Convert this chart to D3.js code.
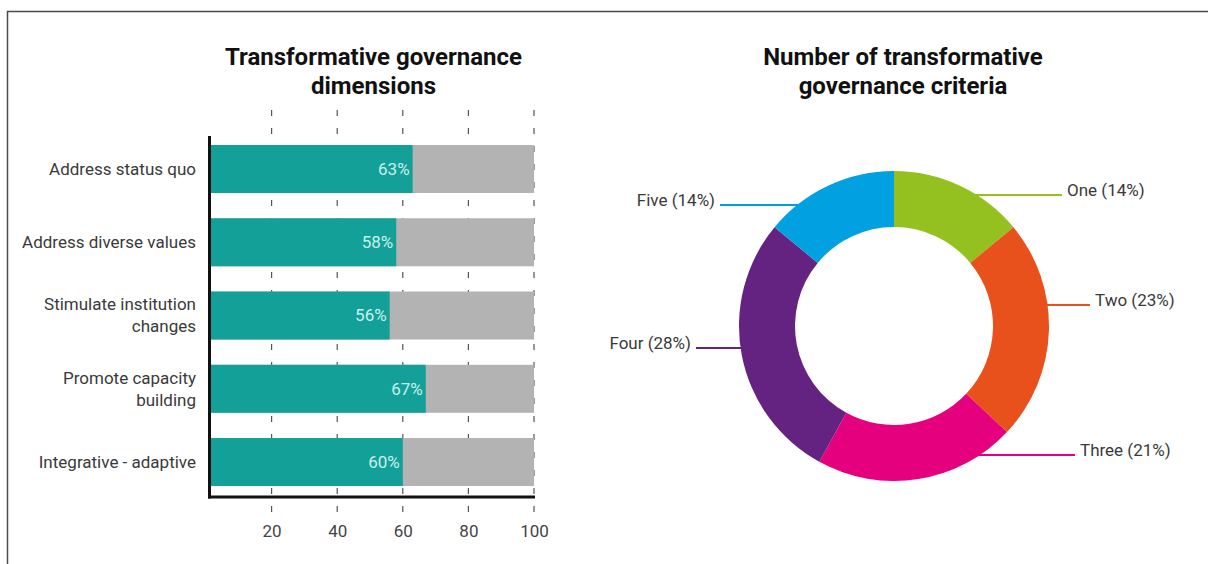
<!DOCTYPE html>
<html>
<head>
<meta charset="utf-8">
<script src="https://cdn.jsdelivr.net/npm/d3@7/dist/d3.min.js"></script>
<style>
  html, body { margin: 0; padding: 0; background: #fff; }
  svg { display: block; font-family: Roboto, "Noto Sans", sans-serif; }
</style>
</head>
<body>
<svg id="chart" width="1208" height="564"></svg>
<script>
// Share of studies addressing each transformative governance dimension (%)
const dimensions = [
  ["Address status quo"],
  ["Address diverse values"],
  ["Stimulate institution", "changes"],
  ["Promote capacity", "building"],
  ["Integrative - adaptive"]
];
const dimensionShares = [63, 58, 56, 67, 60];
const xTicks = [20, 40, 60, 80, 100];

// Number of criteria met
const criteriaNames = ["One", "Two", "Three", "Four", "Five"];
const criteriaShares = [14, 23, 21, 28, 14];
const criteriaColors = ["#94c11f", "#e8511b", "#e5007e", "#652381", "#00a0e1"];

const svg = d3.select("#chart");

// outer frame
svg.append("rect")
  .attr("x", 7.5).attr("y", 11.5)
  .attr("width", 1300).attr("height", 700)
  .attr("fill", "none").attr("stroke", "#4a4a4a").attr("stroke-width", 1.5);

// ---------- bar chart ----------
const x = d3.scaleLinear().domain([0, 100]).range([206, 534]);
const y = d3.scaleBand()
  .domain(d3.range(dimensions.length))
  .range([132.4, 498.65])
  .paddingInner(0.345)
  .paddingOuter(0.1725);

const axisX = 209.5, axisY = 497;

const left = svg.append("g");

left.append("text")
  .attr("x", 373.5).attr("y", 65)
  .attr("text-anchor", "middle")
  .attr("font-size", 24).attr("font-weight", 700).attr("fill", "#111")
  .selectAll("tspan")
  .data(["Transformative governance", "dimensions"])
  .join("tspan")
  .attr("x", 373.5)
  .attr("dy", (d, i) => i ? 29 : 0)
  .text(d => d);

// dashed grid lines
left.append("g")
  .selectAll("line")
  .data(xTicks)
  .join("line")
  .attr("x1", d => x(d)).attr("x2", d => x(d))
  .attr("y1", 110).attr("y2", 518)
  .attr("stroke", "#555").attr("stroke-width", 1.2)
  .attr("stroke-dasharray", "6,12");

// remainder (grey) and share (teal) bars
left.append("g")
  .selectAll("rect")
  .data(dimensionShares)
  .join("rect")
  .attr("x", axisX)
  .attr("y", (d, i) => y(i))
  .attr("width", x(100) - axisX)
  .attr("height", y.bandwidth())
  .attr("fill", "#b3b3b3");

left.append("g")
  .selectAll("rect")
  .data(dimensionShares)
  .join("rect")
  .attr("x", axisX)
  .attr("y", (d, i) => y(i))
  .attr("width", d => x(d) - axisX)
  .attr("height", y.bandwidth())
  .attr("fill", "#12a099");

left.append("g")
  .selectAll("text")
  .data(dimensionShares)
  .join("text")
  .attr("x", d => x(d) - 3)
  .attr("y", (d, i) => y(i) + y.bandwidth() / 2)
  .attr("dy", "0.35em")
  .attr("text-anchor", "end")
  .attr("font-size", 17).attr("fill", "#c9f1ec")
  .text(d => d + "%");

// category labels
left.append("g")
  .selectAll("text")
  .data(dimensions)
  .join("text")
  .attr("text-anchor", "end")
  .attr("font-size", 17).attr("fill", "#3a3a3a")
  .each(function (lines, i) {
    const cy = y(i) + y.bandwidth() / 2;
    const lh = 22;
    d3.select(this).selectAll("tspan")
      .data(lines)
      .join("tspan")
      .attr("x", 196)
      .attr("y", (d, j) => cy + (j - (lines.length - 1) / 2) * lh)
      .attr("dy", "0.35em")
      .text(d => d);
  });

// axes
left.append("line")
  .attr("x1", axisX).attr("x2", axisX)
  .attr("y1", 136).attr("y2", axisY + 1.5)
  .attr("stroke", "#111").attr("stroke-width", 3);
left.append("line")
  .attr("x1", axisX - 1.5).attr("x2", x(100) + 1)
  .attr("y1", axisY).attr("y2", axisY)
  .attr("stroke", "#111").attr("stroke-width", 3);

const xAxis = d3.axisBottom(x).tickValues(xTicks).tickSize(0).tickPadding(0);
const xg = left.append("g").attr("transform", "translate(0,525)").call(xAxis);
xg.select(".domain").remove();
xg.selectAll("text")
  .attr("font-size", 17).attr("fill", "#444")
  .attr("font-family", "Roboto, sans-serif");

// ---------- donut ----------
const cx = 894, cy = 326, rOuter = 155, rInner = 99;
const right = svg.append("g");

right.append("text")
  .attr("x", 903).attr("y", 65)
  .attr("text-anchor", "middle")
  .attr("font-size", 24).attr("font-weight", 700).attr("fill", "#111")
  .selectAll("tspan")
  .data(["Number of transformative", "governance criteria"])
  .join("tspan")
  .attr("x", 903)
  .attr("dy", (d, i) => i ? 29 : 0)
  .text(d => d);

const pie = d3.pie().sort(null).value(d => d);
const arc = d3.arc().innerRadius(rInner).outerRadius(rOuter);
const arcs = pie(criteriaShares);

const ring = right.append("g").attr("transform", `translate(${cx},${cy})`);
ring.selectAll("path")
  .data(arcs)
  .join("path")
  .attr("d", arc)
  .attr("fill", (d, i) => criteriaColors[i]);

// leader line placement: vertical offset from centre, and where the line ends
const leaderLayout = [
  { dy: -131, end: 168 },   // One
  { dy: -21,  end: 196 },   // Two
  { dy: 129,  end: 181 },   // Three
  { dy: 22,   end: -198 },  // Four
  { dy: -121, end: -174 }   // Five
];

const leaders = right.append("g");
arcs.forEach((a, i) => {
  const L = leaderLayout[i];
  const side = L.end > 0 ? 1 : -1;
  const ly = cy + L.dy;
  const sx = cx + side * Math.sqrt(rOuter * rOuter - L.dy * L.dy) - side * 2;
  const ex = cx + L.end;
  leaders.append("line")
    .attr("x1", sx).attr("x2", ex)
    .attr("y1", ly).attr("y2", ly)
    .attr("stroke", criteriaColors[i]).attr("stroke-width", 2.2);
  leaders.append("text")
    .attr("x", ex + side * 5)
    .attr("y", ly + 1)
    .attr("text-anchor", side > 0 ? "start" : "end")
    .attr("font-size", 17).attr("fill", "#3a3a3a")
    .text(`${criteriaNames[i]} (${criteriaShares[i]}%)`);
});
</script>
</body>
</html>
